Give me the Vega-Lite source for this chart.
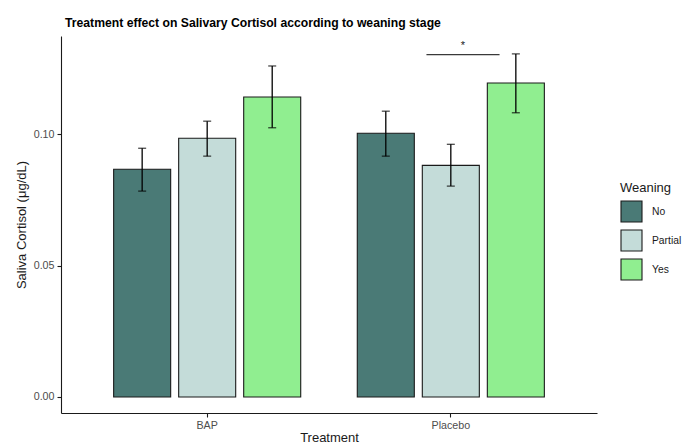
{
  "$schema": "https://vega.github.io/schema/vega-lite/v6.json",
  "autosize": "none",
  "padding": {"left": 61, "top": 36, "right": 85, "bottom": 32},
  "width": 536,
  "height": 377,
  "background": "white",
  "config": {
    "view": {"stroke": null},
    "font": "Liberation Sans",
    "axis": {
      "grid": false,
      "domainColor": "#1a1a1a",
      "domainWidth": 1.1,
      "tickColor": "#1a1a1a",
      "tickWidth": 1.1,
      "tickSize": 4,
      "labelColor": "#4d4d4d",
      "labelFont": "Liberation Sans",
      "labelFontSize": 10.7,
      "labelPadding": 3,
      "titleFont": "Liberation Sans",
      "titleFontSize": 13,
      "titleFontWeight": "normal",
      "titleColor": "#1a1a1a"
    },
    "legend": {
      "titleFont": "Liberation Sans",
      "titleFontSize": 13,
      "titleFontWeight": "normal",
      "titleColor": "#1a1a1a",
      "labelFont": "Liberation Sans",
      "labelFontSize": 10.3,
      "labelColor": "#1a1a1a"
    }
  },
  "title": {
    "text": "Treatment effect on Salivary Cortisol according to weaning stage",
    "font": "Liberation Sans",
    "fontSize": 12.2,
    "fontWeight": "bold",
    "color": "#000000",
    "anchor": "start",
    "frame": "group",
    "dx": 4,
    "offset": 7
  },
  "datasets": {
    "bars": [
      {"Treatment": "BAP", "Weaning": "No", "mean": 0.0866, "lo": 0.0783, "hi": 0.0946},
      {"Treatment": "BAP", "Weaning": "Partial", "mean": 0.0984, "lo": 0.0916, "hi": 0.1049},
      {"Treatment": "BAP", "Weaning": "Yes", "mean": 0.1141, "lo": 0.1024, "hi": 0.1259},
      {"Treatment": "Placebo", "Weaning": "No", "mean": 0.1003, "lo": 0.0916, "hi": 0.1087},
      {"Treatment": "Placebo", "Weaning": "Partial", "mean": 0.0881, "lo": 0.0802, "hi": 0.0961},
      {"Treatment": "Placebo", "Weaning": "Yes", "mean": 0.1194, "lo": 0.1081, "hi": 0.1305}
    ],
    "sig": [
      {"xmin": 1.9, "xmax": 2.2, "xmid": 2.05, "y": 0.1302, "ylab": 0.1316, "label": "*"}
    ]
  },
  "layer": [
    {
      "data": {"name": "bars"},
      "encoding": {
        "x": {
          "field": "Treatment",
          "type": "nominal",
          "scale": {"paddingInner": 0, "paddingOuter": 0.1},
          "axis": {"labelAngle": 0, "title": "Treatment", "titlePadding": 2}
        },
        "xOffset": {
          "field": "Weaning",
          "type": "nominal",
          "scale": {"paddingInner": 0.123, "paddingOuter": 0.435}
        }
      },
      "layer": [
        {
          "mark": {"type": "bar", "stroke": "#1a1a1a", "strokeWidth": 1.1},
          "encoding": {
            "y": {
              "field": "mean",
              "type": "quantitative",
              "scale": {"domain": [-0.0061, 0.1373], "nice": false, "zero": false},
              "axis": {"values": [0, 0.05, 0.1], "format": ".2f", "title": "Saliva Cortisol (μg/dL)", "titlePadding": 5}
            },
            "y2": {"datum": 0},
            "fill": {
              "field": "Weaning",
              "type": "nominal",
              "scale": {"domain": ["No", "Partial", "Yes"], "range": ["#4a7a76", "#c4dcd9", "#90ee90"]},
              "legend": {
                "title": "Weaning",
                "orient": "none",
                "legendX": 559,
                "legendY": 146,
                "padding": 0,
                "symbolType": "square",
                "symbolSize": 441,
                "symbolStrokeColor": "#1a1a1a",
                "symbolStrokeWidth": 1.1,
                "symbolOpacity": 1,
                "titlePadding": 5,
                "rowPadding": 2,
                "labelOffset": 9
              }
            }
          }
        },
        {
          "mark": {"type": "rule", "color": "#000000", "strokeWidth": 1.3},
          "encoding": {
            "y": {"field": "lo", "type": "quantitative"},
            "y2": {"field": "hi"}
          }
        },
        {
          "mark": {"type": "tick", "color": "#000000", "thickness": 1.3, "size": 8, "orient": "horizontal"},
          "encoding": {"y": {"field": "lo", "type": "quantitative"}}
        },
        {
          "mark": {"type": "tick", "color": "#000000", "thickness": 1.3, "size": 8, "orient": "horizontal"},
          "encoding": {"y": {"field": "hi", "type": "quantitative"}}
        }
      ]
    },
    {
      "data": {"name": "sig"},
      "layer": [
        {
          "mark": {"type": "rule", "color": "#3a3a3a", "strokeWidth": 1.3},
          "encoding": {
            "x": {"field": "xmin", "type": "quantitative", "scale": {"domain": [0.4, 2.6], "nice": false, "zero": false}, "axis": null},
            "x2": {"field": "xmax"},
            "y": {"field": "y", "type": "quantitative"}
          }
        },
        {
          "mark": {"type": "text", "color": "#1a1a1a", "fontSize": 11, "baseline": "bottom", "align": "center"},
          "encoding": {
            "x": {"field": "xmid", "type": "quantitative"},
            "y": {"field": "ylab", "type": "quantitative"},
            "text": {"field": "label"}
          }
        }
      ]
    }
  ],
  "resolve": {"scale": {"x": "independent"}}
}
